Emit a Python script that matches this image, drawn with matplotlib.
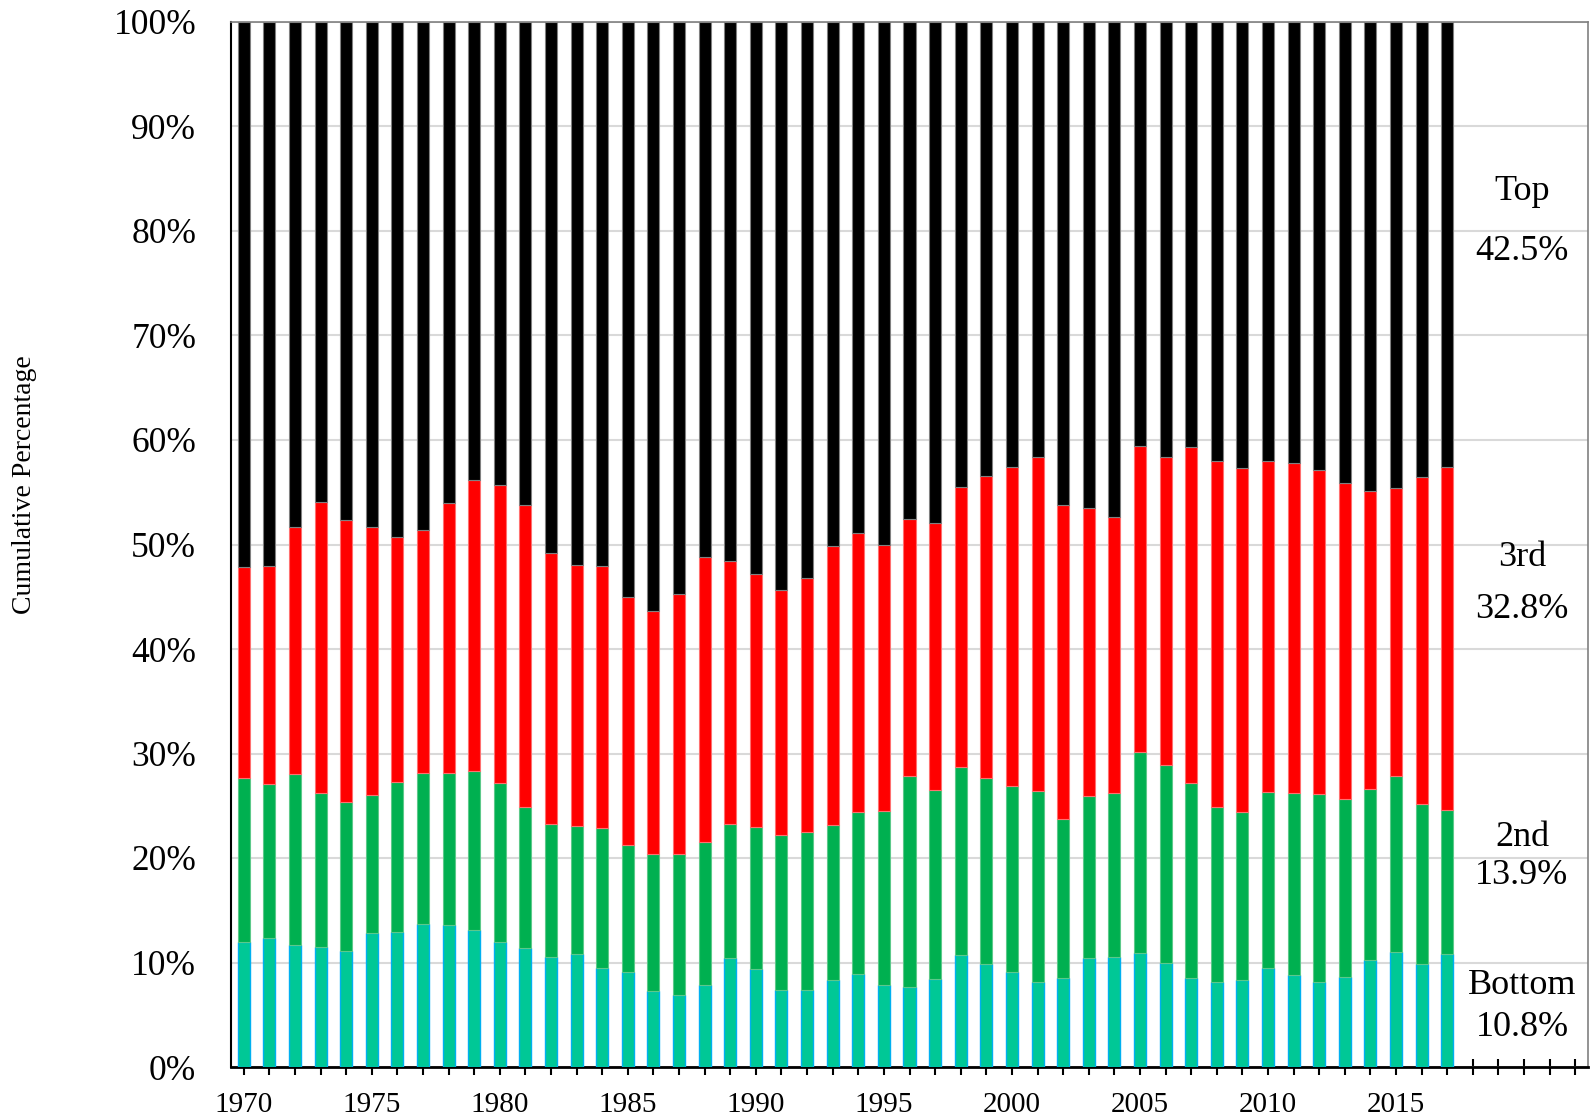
import matplotlib
matplotlib.use("Agg")
import matplotlib.pyplot as plt
import numpy as np

years = list(range(1970, 2018))
# cumulative tops (percent)
bottom_top = [12.0, 12.3, 11.7, 11.5, 11.1, 12.8, 12.9, 13.7, 13.6, 13.1, 12.0, 11.4,
              10.5, 10.8, 9.5, 9.1, 7.3, 6.9, 7.8, 10.4, 9.4, 7.4, 7.4, 8.3,
              8.9, 7.8, 7.7, 8.4, 10.7, 9.9, 9.1, 8.1, 8.5, 10.4, 10.5, 10.9,
              10.0, 8.5, 8.1, 8.3, 9.5, 8.8, 8.1, 8.6, 10.2, 11.0, 9.9, 10.8]
second_top = [27.7, 27.1, 28.0, 26.2, 25.4, 26.0, 27.3, 28.1, 28.1, 28.3, 27.2, 24.9,
              23.3, 23.1, 22.9, 21.2, 20.4, 20.4, 21.5, 23.3, 23.0, 22.2, 22.5, 23.2,
              24.4, 24.5, 27.8, 26.5, 28.7, 27.7, 26.9, 26.4, 23.7, 25.9, 26.2, 30.1,
              28.9, 27.2, 24.9, 24.4, 26.3, 26.2, 26.1, 25.6, 26.6, 27.8, 25.2, 24.6]
third_top = [47.8, 47.9, 51.7, 54.1, 52.3, 51.7, 50.7, 51.4, 54.0, 56.2, 55.7, 53.8,
             49.2, 48.0, 47.9, 45.0, 43.6, 45.3, 48.8, 48.4, 47.2, 45.6, 46.8, 49.9,
             51.1, 50.0, 52.4, 52.1, 55.5, 56.6, 57.4, 58.4, 53.8, 53.5, 52.6, 59.4,
             58.4, 59.3, 58.0, 57.3, 58.0, 57.8, 57.1, 55.9, 55.1, 55.4, 56.5, 57.4]
all_ticks = list(range(1970, 2023))
labeled_years = [1970, 1975, 1980, 1985, 1990, 1995, 2000, 2005, 2010, 2015]
y_ticks = [0, 10, 20, 30, 40, 50, 60, 70, 80, 90, 100]
side_labels = [("Top", 191), ("42.5%", 252), ("3rd", 558), ("32.8%", 609),
               ("2nd", 837), ("13.9%", 875), ("Bottom", 986), ("10.8%", 1027)]

plt.rcParams['font.family'] = ['Liberation Serif', 'DejaVu Serif']

W, H = 1591, 1116
fig = plt.figure(figsize=(W / 100, H / 100), dpi=100)
ax = fig.add_axes([231 / W, 1 - 1067 / H, (1588 - 231) / W, (1067 - 22) / H])

x = np.array(years)
b = np.array(bottom_top)
s = np.array(second_top)
t = np.array(third_top)
bw = 0.47
ax.bar(x, b, width=bw, color='#00C896', edgecolor='#00B0F0', linewidth=1.0, zorder=3)
ax.bar(x, s - b, bottom=b, width=bw, color='#00B050', edgecolor='#5CC98A', linewidth=0.8, zorder=3)
ax.bar(x, t - s, bottom=s, width=bw, color='#FF0000', edgecolor='#FF7070', linewidth=0.8, zorder=3)
ax.bar(x, 100 - t, bottom=t, width=bw, color='#000000', edgecolor='#808080', linewidth=0.8, zorder=3)

ax.set_xlim(1969.5, 2022.5)
ax.set_ylim(0, 100)
ax.set_yticks(y_ticks)
ax.set_yticklabels([f"{v}%" for v in y_ticks], fontsize=25.5)
ax.tick_params(axis='y', length=0, pad=25)
ax.set_xticks(all_ticks)
ax.set_xticklabels([str(yv) if yv in labeled_years else "" for yv in all_ticks], fontsize=21)
ax.tick_params(axis='x', direction='inout', length=12, width=1.5, pad=12)
ax.grid(axis='y', color='#D9D9D9', linewidth=1.5, zorder=0)
ax.set_axisbelow(True)

for side in ['top', 'right']:
    ax.spines[side].set_color('#808080')
    ax.spines[side].set_linewidth(1.2)
ax.spines['left'].set_color('black')
ax.spines['left'].set_linewidth(1.5)
ax.spines['bottom'].set_color('black')
ax.spines['bottom'].set_linewidth(2)

fig.text(25 / W, 1 - 485 / H, "Cumulative Percentage", rotation=90, fontsize=20,
         ha='center', va='center')

for txt, yp in side_labels:
    fig.text(1522 / W, 1 - yp / H, txt, fontsize=26, ha='center', va='center')

fig.savefig("out.png", dpi=100)
